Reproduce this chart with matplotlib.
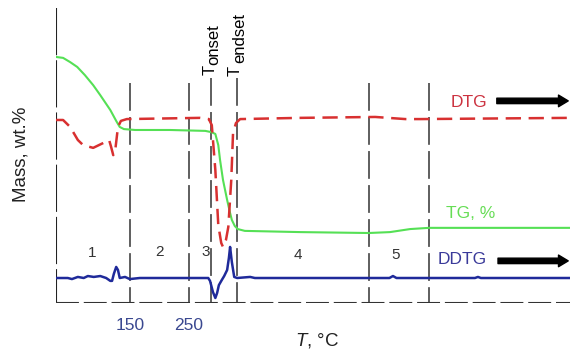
"""
Thermogram: TG / DTG / DDTG curves with decomposition stages 1-5.
"""
import matplotlib
matplotlib.use("Agg")
import matplotlib.pyplot as plt

plt.rcParams['font.family'] = ['Liberation Sans', 'DejaVu Sans']
plt.rcParams['mathtext.fontset'] = 'custom'
plt.rcParams['mathtext.rm'] = 'Liberation Sans'
plt.rcParams['mathtext.it'] = 'Liberation Sans:italic'
plt.rcParams['lines.scale_dashes'] = False

# TG curve (temperature, a.u.)
tg_t = [25, 37, 49, 61, 74, 88, 100, 117, 127, 133, 140, 159, 218, 278, 288, 295,
        300, 303, 308, 315, 320, 323, 328, 333, 345, 439, 555, 591, 625, 657, 778, 896]
tg_v = [81.2, 80.9, 79.5, 77.9, 75.2, 71.9, 68.6, 63.7, 60.1, 58.1, 57.4, 57.1, 57.1,
        56.8, 56.4, 55.8, 52.1, 47.2, 40.6, 34.0, 29.7, 27.4, 25.4, 24.4, 23.8, 23.4,
        23.1, 23.4, 24.4, 24.8, 24.8, 24.8]

# DTG curve
dtg_t = [25, 37, 49, 62, 71, 88, 105, 115, 118, 122, 125, 127, 130, 135, 145, 269,
         284, 289, 295, 300, 305, 308, 313, 317, 322, 325, 330, 337, 439, 566, 617, 642, 896]
dtg_v = [60.4, 60.4, 58.1, 53.8, 52.1, 51.2, 52.8, 53.8, 51.8, 48.8, 49.8, 53.1, 58.1,
         60.1, 60.7, 61.1, 60.7, 58.7, 43.9, 25.7, 19.8, 18.5, 20.8, 25.1, 40.6, 56.1,
         59.4, 60.7, 61.1, 61.4, 60.7, 60.7, 61.1]

# DDTG curve
ddtg_t = [25, 45, 52, 62, 72, 79, 89, 100, 110, 117, 120, 123, 127, 130, 133, 142, 150,
          167, 283, 286, 291, 295, 298, 301, 306, 310, 315, 318, 320, 323, 327, 332,
          354, 362, 590, 596, 602, 735, 740, 745, 896]
ddtg_v = [8.25, 8.25, 7.9, 8.6, 8.25, 8.9, 8.6, 8.9, 8.25, 7.3, 7.3, 9.6, 11.9, 10.9,
          8.25, 8.6, 7.9, 8.25, 8.25, 7.3, 3.6, 1.65, 3.3, 5.9, 7.6, 8.9, 10.9, 14.9,
          18.5, 13.5, 8.6, 8.25, 8.6, 8.25, 8.25, 8.9, 8.25, 8.25, 8.6, 8.25, 8.25]

# stage boundaries (deg C), T_onset and T_endset included
dividers = [150, 250, 288, 332, 555, 657]
divider_top = [72.6, 72.6, 74.3, 74.3, 72.6, 72.6]

stage_labels = ['1', '2', '3', '4', '5']
stage_t = [86, 200, 278, 435, 600]
stage_v = [16.5, 16.8, 16.8, 15.8, 15.8]

xticks = [150, 250]

fig = plt.figure(figsize=(5.7, 3.55), dpi=100)
ax = fig.add_axes([56 / 570, 52 / 355, 514 / 570, 303 / 355])
ax.set_xlim(25, 896)
ax.set_ylim(0, 100)
for s in ax.spines.values():
    s.set_visible(False)
ax.set_yticks([])
ax.set_xticks(xticks)
ax.set_xticklabels([str(t) for t in xticks], fontsize=12.5, color='#3a4890')
ax.tick_params(axis='x', length=0, pad=11)

# frame: dashed left and bottom axes
ax.plot([25, 25], [97.4, 0], color='#222222', lw=1.5, dashes=(34, 3.6),
        dash_capstyle='butt')
ax.plot([25, 896], [0, 0], color='#333333', lw=1.5, dashes=(16.5, 3.5),
        dash_capstyle='butt')

# stage dividers
for x, top in zip(dividers, divider_top):
    ax.plot([x, x], [top, 0], color='#333333', lw=1.1, dashes=(20, 4.5),
            dash_capstyle='butt')

ax.plot(tg_t, tg_v, color='#55e055', lw=1.5)
ax.plot(dtg_t, dtg_v, color='#d83030', lw=1.8, dashes=(11, 5.5),
        dash_capstyle='butt')
ax.plot(ddtg_t, ddtg_v, color='#1f2a9a', lw=1.8)

for lab, t, v in zip(stage_labels, stage_t, stage_v):
    ax.text(t, v, lab, fontsize=11, color='#333333', ha='center', va='center')

# curve labels with arrows
ax.text(725, 66.3, 'DTG', fontsize=12.5, color='#cc3340', ha='center', va='center')
ax.text(727, 29.7, 'TG, %', fontsize=12.5, color='#66dd55', ha='center', va='center')
ax.text(713, 14.5, 'DDTG', fontsize=12.5, color='#3a3a9a', ha='center', va='center')
arrow = dict(arrowstyle='simple,head_length=0.5,head_width=0.6,tail_width=0.28',
             color='black', mutation_scale=14, shrinkA=0, shrinkB=0)
ax.annotate('', xy=(893, 66.7), xytext=(772, 66.7), arrowprops=arrow)
ax.annotate('', xy=(893, 13.9), xytext=(774, 13.9), arrowprops=arrow)

# T_onset / T_endset markers
ax.text(287, 75.2, 'T', rotation=90, fontsize=12, ha='center', va='bottom')
ax.text(292, 78.6, 'onset', rotation=90, fontsize=12, ha='center', va='bottom')
ax.text(329, 74.9, 'T', rotation=90, fontsize=12, ha='center', va='bottom')
ax.text(337, 79.2, 'endset', rotation=90, fontsize=12, ha='center', va='bottom')

fig.text(21.5 / 570, 1 - 154 / 355, 'Mass, wt.%', rotation=90, fontsize=13.5,
         color='#222222', ha='center', va='center')
fig.text(317 / 570, 1 - 340 / 355, r'$T$, °C', fontsize=13.5, color='#222222',
         ha='center', va='center')

fig.savefig('out.png', dpi=100)
